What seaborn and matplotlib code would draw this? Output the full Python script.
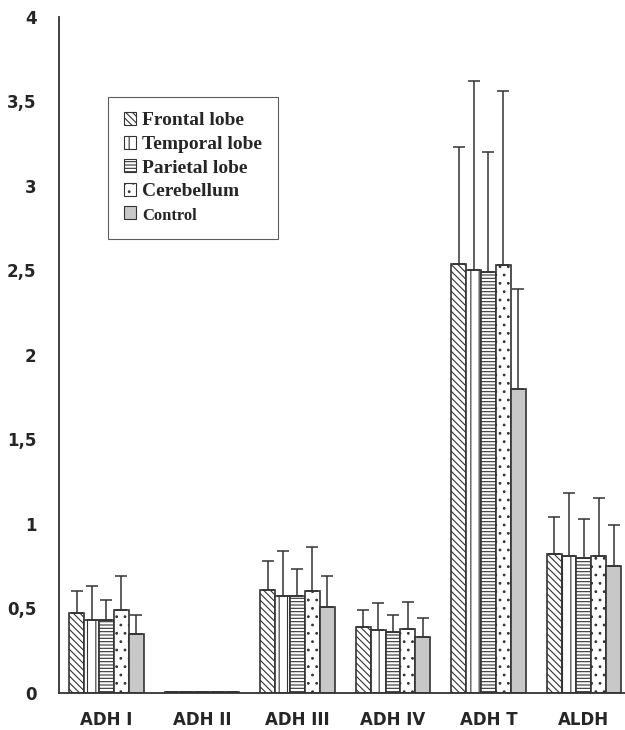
import numpy as np
import pandas as pd
import matplotlib.pyplot as plt
import seaborn as sns
from matplotlib.patches import Patch

# data (mean, upper error = sd)
enzymes = ["ADH I", "ADH II", "ADH III", "ADH IV", "ADH T", "ALDH"]
regions = ["Frontal lobe", "Temporal lobe", "Parietal lobe", "Cerebellum", "Control"]

frontal  = [0.47, 0.005, 0.61, 0.39, 2.54, 0.82]
temporal = [0.43, 0.005, 0.57, 0.37, 2.50, 0.81]
parietal = [0.43, 0.005, 0.57, 0.36, 2.49, 0.80]
cerebel  = [0.49, 0.005, 0.60, 0.38, 2.53, 0.81]
control  = [0.35, 0.005, 0.51, 0.33, 1.80, 0.75]

frontal_sd  = [0.13, 0.0, 0.17, 0.10, 0.69, 0.22]
temporal_sd = [0.20, 0.0, 0.27, 0.16, 1.12, 0.37]
parietal_sd = [0.12, 0.0, 0.16, 0.10, 0.71, 0.23]
cerebel_sd  = [0.20, 0.0, 0.26, 0.16, 1.03, 0.34]
control_sd  = [0.11, 0.0, 0.18, 0.11, 0.59, 0.24]

means = [frontal, temporal, parietal, cerebel, control]
sds = [frontal_sd, temporal_sd, parietal_sd, cerebel_sd, control_sd]

df = pd.DataFrame({
    "enzyme": enzymes * len(regions),
    "region": np.repeat(regions, len(enzymes)),
    "value": np.concatenate(means),
})

sns.set_style("white")
plt.rcParams["hatch.linewidth"] = 0.8

fig = plt.figure(figsize=(6.25, 7.3), dpi=100)
ax = fig.add_axes([0.094, 0.051, 0.906, 0.926])

fills = ["white", "white", "white", "white", "#c8c8c8"]
hatches = ["\\\\\\\\\\", "||", "-----", "..", ""]
edge = "#333333"

sns.barplot(data=df, x="enzyme", y="value", hue="region", order=enzymes,
            hue_order=regions, errorbar=None, width=0.78, ax=ax,
            palette=fills, edgecolor=edge, linewidth=1.2, legend=False)

for cont, h, sd in zip(ax.containers, hatches, sds):
    xs, ys = [], []
    for bar in cont:
        bar.set_hatch(h)
        bar.set_edgecolor(edge)
        xs.append(bar.get_x() + bar.get_width() / 2)
        ys.append(bar.get_height())
    ax.errorbar(xs, ys, yerr=[np.zeros(len(sd)), sd], fmt="none",
                ecolor="#333333", elinewidth=1.1, capsize=4, capthick=1.1)

tick_font = {"fontsize": 12, "fontweight": "bold", "family": "DejaVu Sans"}

ax.set_ylim(0, 4)
ax.set_xlim(-0.5, 5.43)
ax.set_yticks(np.arange(0, 4.01, 0.5))
ax.set_yticklabels(["0", "0,5", "1", "1,5", "2", "2,5", "3", "3,5", "4"], **tick_font)
ax.set_xticks(range(len(enzymes)))
ax.set_xticklabels(enzymes, **tick_font)
ax.set_xticks(np.arange(-0.5, 5.0, 1), minor=True)
ax.tick_params(axis="x", which="major", length=0, pad=13)
ax.tick_params(axis="x", which="minor", length=8, direction="out", color="#333333")
ax.tick_params(axis="y", length=8, direction="out", color="#555555", pad=8)
ax.set_xlabel("")
ax.set_ylabel("")
for s in ["top", "right"]:
    ax.spines[s].set_visible(False)
for s in ["left", "bottom"]:
    ax.spines[s].set_color("#333333")
    ax.spines[s].set_linewidth(1.3)

handles = [Patch(facecolor=f, edgecolor=edge, hatch=h, linewidth=0.8)
           for f, h in zip(fills, hatches)]
leg = ax.legend(handles, regions, loc="upper left", bbox_to_anchor=(0.087, 0.882),
                frameon=True, fancybox=False, handlelength=0.65, handleheight=0.65,
                handletextpad=0.3, labelspacing=0.32, borderpad=0.8,
                borderaxespad=0,
                prop={"family": "Liberation Serif", "weight": "bold", "size": 14})
leg.get_frame().set_edgecolor("#333333")
leg.get_frame().set_linewidth(0.8)
# last label is smaller in the original
leg.get_texts()[-1].set_fontsize(12)

fig.savefig("out.png", dpi=100)
